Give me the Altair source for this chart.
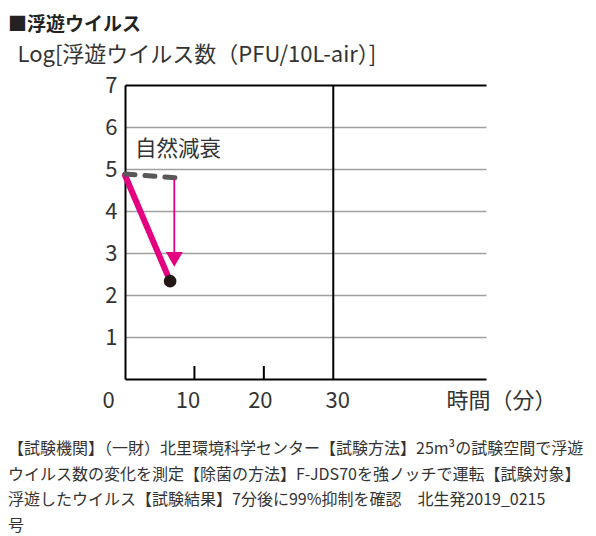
import altair as alt
import pandas as pd

# ---- texts ----
heading = "■浮遊ウイルス"
y_title = "Log[浮遊ウイルス数（PFU/10L-air）]"
x_title = "時間（分）"
annotation = ["自然減衰"]
note_lines = [
    "【試験機関】（一財）北里環境科学センター【試験方法】25m³の試験空間で浮遊",
    "ウイルス数の変化を測定【除菌の方法】F-JDS70を強ノッチで運転【試験対象】",
    "浮遊したウイルス【試験結果】7分後に99%抑制を確認　北生発2019_0215",
    "号",
]

# ---- axis ticks ----
x_ticks = [0, 10, 20, 30]
y_ticks = [1, 2, 3, 4, 5, 6, 7]
inner_ticks = [10, 20]
frame_x = [30]

# ---- series (minutes, log value) ----
treat_t = [0, 6.5]
treat_v = [4.85, 2.33]
natural_t = [0, 8.2]
natural_v = [4.88, 4.78]
arrow_t = [7.1]
arrow_from = [4.75]
arrow_to = [3.0]
arrow_head_v = [2.85]
annot_t = [1.44]
annot_v = [5.45]

FONT = "Noto Sans CJK JP"
TXT = "#333333"
PINK = "#e4007f"

xs = alt.Scale(domain=[0, 52], nice=False, zero=False)
ys = alt.Scale(domain=[0, 7], nice=False, zero=False)

x_axis = alt.Axis(
    values=x_ticks, grid=False, ticks=False, tickSize=0,
    domainColor="#000000", domainWidth=2,
    labelFont=FONT, labelFontSize=22, labelColor=TXT,
    labelPadding=21, labelBaseline="middle", labelFlush=False,
    labelOffset={
        "condition": [
            {"test": "datum.value === 0", "value": -17},
            {"test": "datum.value === 10", "value": -7},
            {"test": "datum.value === 30", "value": 4},
        ],
        "value": -4,
    },
    title=x_title, titleFont=FONT, titleFontSize=22, titleFontWeight="normal",
    titleColor=TXT, titleX=376, titleY=21, titleAlign="center", titleBaseline="middle",
    titleAngle=0,
)
y_axis = alt.Axis(
    values=y_ticks, grid=True, ticks=False, tickSize=0,
    gridColor={"condition": {"test": "datum.value === 7", "value": "#000000"}, "value": "#a0a0a0"},
    gridWidth={"condition": {"test": "datum.value === 7", "value": 2}, "value": 1.5},
    domainColor="#000000", domainWidth=2,
    labelFont=FONT, labelFontSize=22, labelColor=TXT, labelPadding=8,
    title=y_title, titleFont=FONT, titleFontSize=22, titleFontWeight="normal",
    titleColor=TXT, titleAngle=0, titleX=-108, titleY=-31,
    titleAlign="left", titleBaseline="middle",
)


def X(field="t"):
    return alt.X(f"{field}:Q", scale=xs, axis=x_axis)


def Y(field="v"):
    return alt.Y(f"{field}:Q", scale=ys, axis=y_axis)


treat_df = pd.DataFrame({"t": treat_t, "v": treat_v})
natural_df = pd.DataFrame({"t": natural_t, "v": natural_v})

treat_line = alt.Chart(treat_df).mark_line(color=PINK, strokeWidth=6, strokeCap="round").encode(
    x=X(), y=Y(),
)

frame_rule = alt.Chart(pd.DataFrame({"t": frame_x})).mark_rule(color="#000000", strokeWidth=2).encode(
    x=X(),
)

tick_rules = alt.Chart(pd.DataFrame({"t": inner_ticks, "v": [0] * len(inner_ticks)})).mark_rule(
    color="#000000", strokeWidth=2
).encode(
    x=X(), y=Y(), y2=alt.datum(0.31),
)

natural_line = alt.Chart(natural_df).mark_line(
    color="#595757", strokeWidth=5, strokeDash=[10, 10], strokeCap="round"
).encode(x=X(), y=Y())

arrow_df = pd.DataFrame({"t": arrow_t, "v": arrow_from, "v2": arrow_to, "h": arrow_head_v})
arrow_shaft = alt.Chart(arrow_df).mark_rule(color=PINK, strokeWidth=1.8).encode(
    x=X(), y=Y(), y2="v2:Q",
)
arrow_head = alt.Chart(arrow_df).mark_point(
    shape="triangle-down", filled=True, color=PINK, size=289, opacity=1
).encode(x=X(), y=Y("h"))

end_dot = alt.Chart(treat_df.iloc[[-1]]).mark_circle(color="#231815", size=160, opacity=1).encode(
    x=X(), y=Y(),
)

annot = alt.Chart(pd.DataFrame({"t": annot_t, "v": annot_v, "s": annotation})).mark_text(
    font=FONT, fontSize=21.5, color=TXT, align="left", baseline="middle"
).encode(x=X(), y=Y(), text="s:N")

head = alt.Chart(pd.DataFrame({"s": [heading]})).mark_text(
    font=FONT, fontSize=19, fontWeight="bold", color="#222222", align="left", baseline="middle"
).encode(x=alt.value(-117), y=alt.value(-60), text="s:N")

note = alt.Chart(pd.DataFrame({"s": ["\n".join(note_lines)]})).mark_text(
    font=FONT, fontSize=16, color=TXT, align="left", baseline="alphabetic",
    lineBreak="\n", lineHeight=25.5,
).encode(x=alt.value(-117), y=alt.value(369), text="s:N")

chart = alt.layer(
    treat_line, frame_rule, tick_rules, natural_line, arrow_shaft, arrow_head, end_dot, annot, head, note
).properties(
    width=361, height=294,
    background="#ffffff",
    autosize=alt.AutoSizeParams(type="none"),
    padding={"left": 117, "top": 77, "right": 102, "bottom": 157},
).configure_view(strokeWidth=0)

chart.save("out.html", embed_options={"renderer": "svg", "actions": False})
